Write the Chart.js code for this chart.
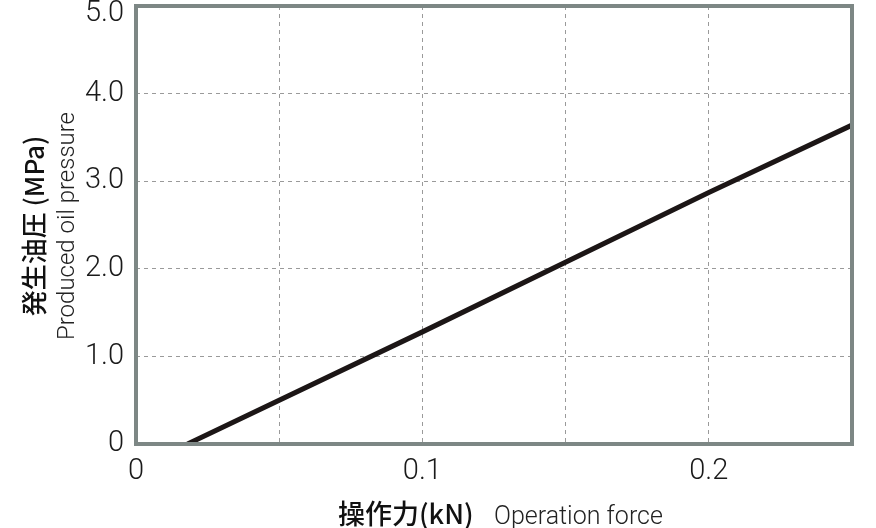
<!DOCTYPE html>
<html>
<head>
<meta charset="utf-8">
<script src="https://cdn.jsdelivr.net/npm/chart.js@4"></script>
<style>
    html, body { margin: 0; padding: 0; background: #fff; }
    #wrap { width: 876px; height: 528px; }
</style>
</head>
<body>
<div id="wrap"><canvas id="chart" width="876" height="528"></canvas></div>
<script>
// Values
const forceKN = [0.018, 0.1, 0.2, 0.25];
const pressureMPa = [0, 1.28, 2.87, 3.64];
const xTickLabels = ['0', '', '0.1', '', '0.2', ''];
const yTickLabels = ['0', '1.0', '2.0', '3.0', '4.0', '5.0'];

const frameColor = '#7d8785';
const gridColor = '#9a9a9a';
const textColor = '#1a1a1a';
const tickFont = { family: 'Roboto', weight: 300, size: 29 };

// Frame around the plot area plus the two-part axis titles
const framePlugin = {
    id: 'frameAndTitles',
    afterDraw(chart) {
        const { ctx, chartArea: a } = chart;
        ctx.save();
        ctx.strokeStyle = frameColor;
        ctx.lineWidth = 4;
        ctx.strokeRect(a.left, a.top, a.right - a.left, a.bottom - a.top);

        // y title
        const cy = 226;
        ctx.save();
        ctx.translate(34, cy);
        ctx.rotate(-Math.PI / 2);
        ctx.fillStyle = '#111';
        ctx.font = '500 26px "Noto Sans CJK JP"';
        ctx.textAlign = 'center';
        ctx.textBaseline = 'middle';
        ctx.fillText('発生油圧 (MPa)', 0, 0);
        ctx.restore();

        ctx.save();
        ctx.translate(68, cy);
        ctx.rotate(-Math.PI / 2);
        ctx.fillStyle = '#222';
        ctx.font = '300 24px Roboto';
        ctx.textAlign = 'center';
        ctx.textBaseline = 'middle';
        ctx.fillText('Produced oil pressure', 0, 0);
        ctx.restore();

        // x title
        ctx.textBaseline = 'alphabetic';
        ctx.textAlign = 'left';
        ctx.font = '500 27px "Noto Sans CJK JP"';
        ctx.fillStyle = '#111';
        ctx.fillText('操作力(kN)', 338, 524);
        ctx.font = '300 25px Roboto';
        ctx.fillStyle = '#222';
        ctx.fillText('Operation force', 494, 524);
        ctx.restore();
    }
};

new Chart(document.getElementById('chart'), {
    type: 'scatter',
    data: {
        datasets: [{
            data: forceKN.map((f, i) => ({ x: f, y: pressureMPa[i] })),
            showLine: true,
            borderColor: '#1c1616',
            borderWidth: 5,
            pointRadius: 0,
            tension: 0
        }]
    },
    options: {
        responsive: false,
        animation: false,
        layout: { padding: { top: 6, right: 24, left: 0, bottom: 0 } },
        plugins: {
            legend: { display: false },
            tooltip: { enabled: false }
        },
        scales: {
            x: {
                type: 'linear',
                min: 0,
                max: 0.25,
                afterFit: scale => {
                    scale.height = 84;
                    scale.paddingLeft = 0;
                    scale.paddingRight = 0;
                },
                afterBuildTicks: scale => {
                    scale.ticks = xTickLabels.map((_, i) => ({ value: i * 0.05 }));
                },
                grid: { color: gridColor, lineWidth: 1, drawTicks: false },
                border: { display: false, dash: [4, 4] },
                ticks: {
                    padding: 10,
                    color: textColor,
                    font: tickFont,
                    maxRotation: 0,
                    autoSkip: false,
                    callback: (v, i) => xTickLabels[i]
                }
            },
            y: {
                type: 'linear',
                min: 0,
                max: 5,
                afterFit: scale => {
                    scale.width = 136;
                    scale.paddingTop = 0;
                    scale.paddingBottom = 0;
                },
                afterBuildTicks: scale => {
                    scale.ticks = yTickLabels.map((_, i) => ({ value: i }));
                },
                grid: { color: gridColor, lineWidth: 1, drawTicks: false },
                border: { display: false, dash: [4, 4] },
                ticks: {
                    padding: 12,
                    color: textColor,
                    // top label sits a little lower so it stays inside the canvas
                    font: c => (c.index === yTickLabels.length - 1 ? { ...tickFont, lineHeight: 0.55 } : tickFont),
                    autoSkip: false,
                    callback: (v, i) => (i === yTickLabels.length - 1 ? ['', yTickLabels[i]] : yTickLabels[i])
                }
            }
        }
    },
    plugins: [framePlugin]
});
</script>
</body>
</html>
